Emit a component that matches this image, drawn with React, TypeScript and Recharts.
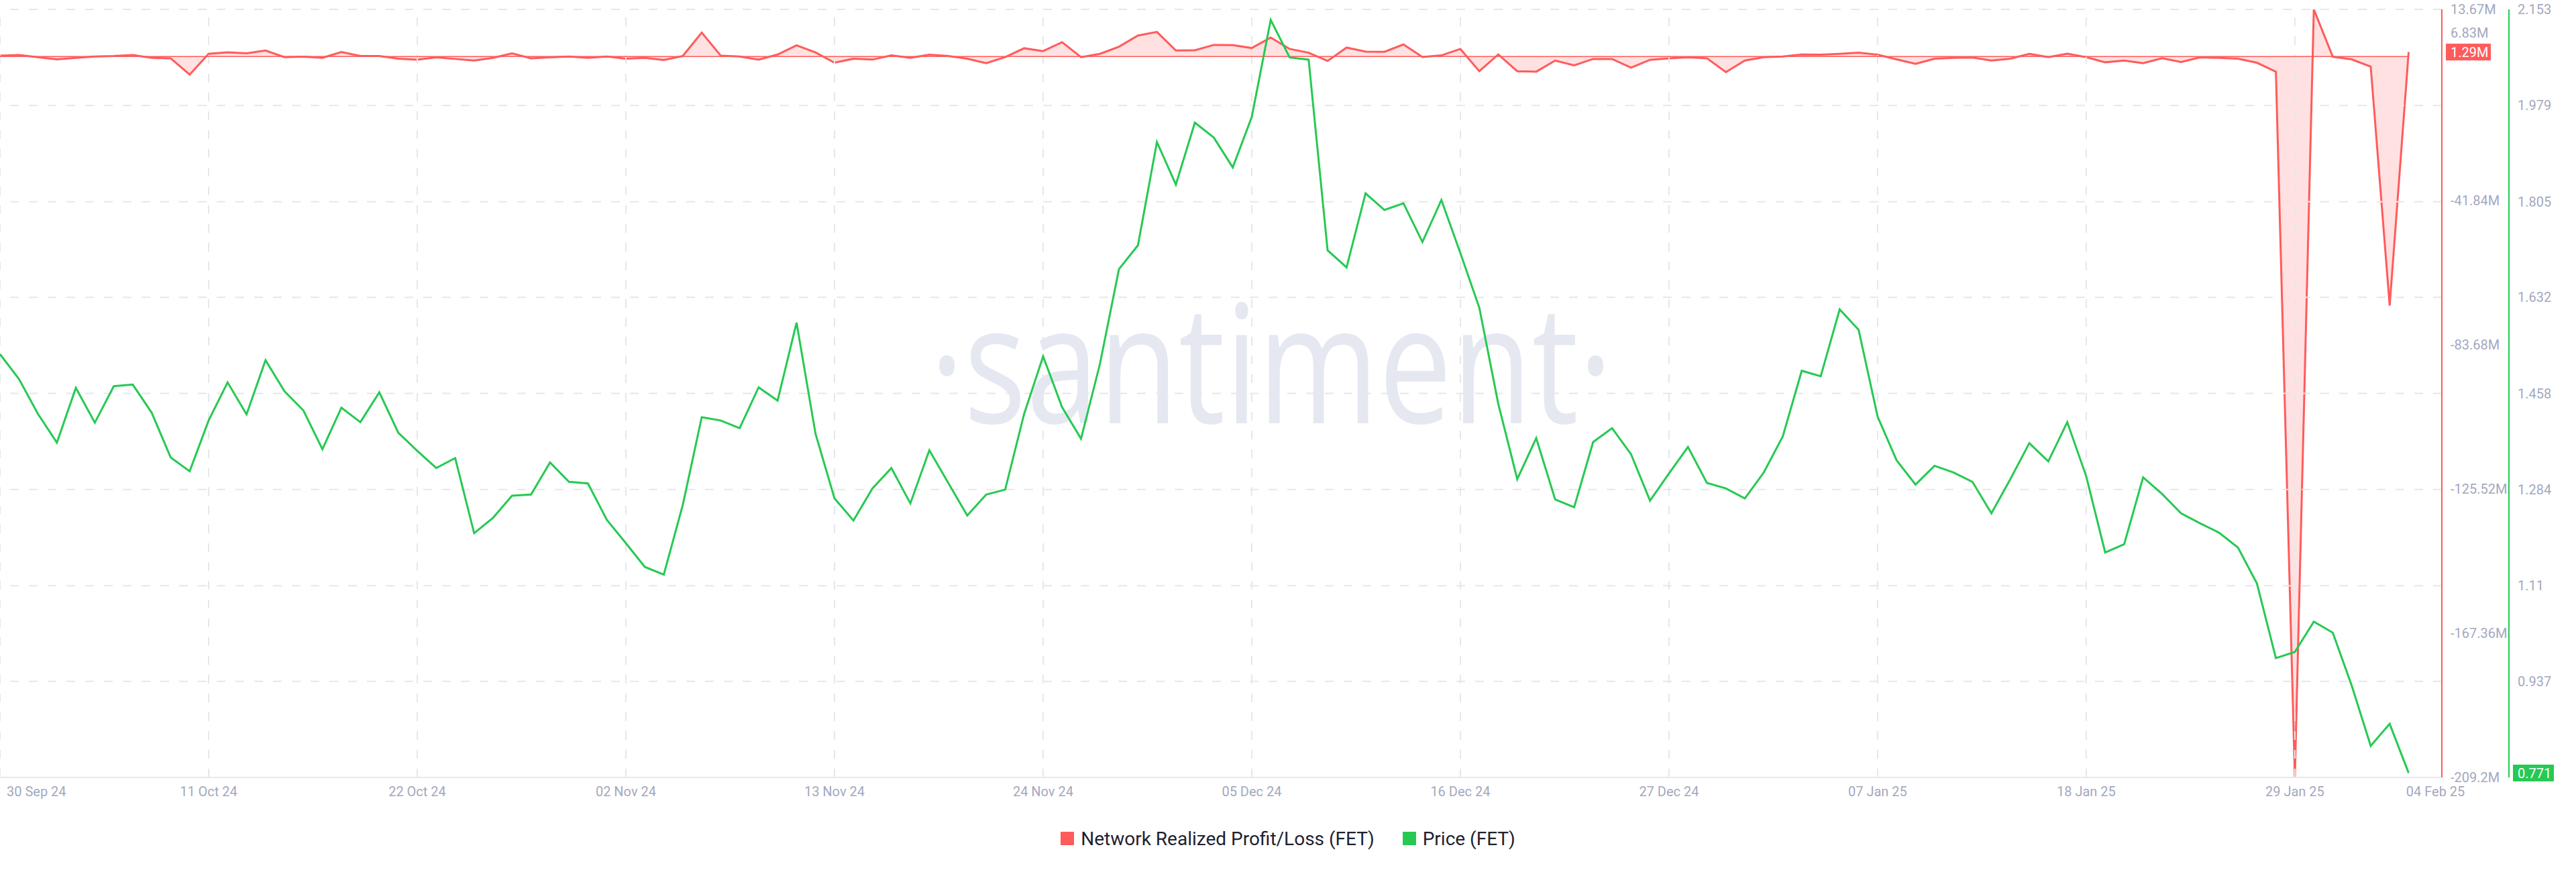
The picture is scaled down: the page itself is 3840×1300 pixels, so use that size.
import React from 'react';
import { ComposedChart, Area, Line, XAxis, YAxis, ReferenceLine, Legend } from 'recharts';

const RED = '#ff5b5b';
const GREEN = '#26c953';
const TICK_GREY = '#a3a8be';
const GRID = '#e6e7ec';

// daily points, 30 Sep 24 -> 04 Feb 25
// Network Realized Profit/Loss (FET), millions
const PL_M = [
  0.26, 0.45, -0.19, -0.84, -0.39, 0, 0.13, 0.45, -0.39, -0.52,
  -5.25, 0.78, 1.23, 0.91, 1.75, -0.19, -0.06, -0.39, 1.3, 0.13,
  0.13, -0.65, -0.91, -0.26, -0.71, -1.17, -0.39, 0.91, -0.52, -0.26,
  0, -0.39, 0, -0.65, -0.39, -1.04, 0.13, 6.93, 0.26, 0,
  -0.91, 0.58, 3.24, 1.17, -1.81, -0.65, -0.9, 0.32, -0.39, 0.52,
  0.13, -0.65, -1.94, -0.19, 2.4, 1.56, 4.15, -0.19, 0.78, 2.85,
  6.09, 7.13, 1.75, 1.81, 3.37, 3.31, 2.46, 5.51, 2.2, 1.1,
  -1.3, 2.59, 1.43, 1.36, 3.5, -0.13, 0.32, 2.2, -4.28, 0.58,
  -4.28, -4.41, -1.17, -2.59, -0.71, -0.71, -3.24, -0.97, -0.52, -0.26,
  -0.52, -4.54, -1.17, -0.19, 0, 0.58, 0.52, 0.78, 1.1, 0.52,
  -0.84, -2.14, -0.65, -0.39, -0.32, -1.17, -0.65, 0.78, -0.19, 0.84,
  -0.19, -1.68, -1.17, -1.94, -0.52, -1.62, -0.26, -0.39, -0.65, -1.81,
  -4.41, -209.2, 13.67, -0.06, -0.84, -2.92, -72.3, 1.29,
];

// Price (FET), USD
const PRICE = [
  1.529, 1.484, 1.421, 1.369, 1.468, 1.405, 1.471, 1.474, 1.423, 1.342,
  1.317, 1.409, 1.478, 1.42, 1.518, 1.462, 1.427, 1.357, 1.432, 1.406,
  1.46, 1.387, 1.354, 1.323, 1.341, 1.205, 1.233, 1.273, 1.275, 1.333,
  1.298, 1.295, 1.229, 1.187, 1.144, 1.13, 1.256, 1.415, 1.409, 1.395,
  1.469, 1.445, 1.586, 1.385, 1.268, 1.228, 1.286, 1.323, 1.259, 1.355,
  1.296, 1.237, 1.275, 1.284, 1.421, 1.525, 1.433, 1.376, 1.512, 1.683,
  1.726, 1.913, 1.836, 1.948, 1.921, 1.867, 1.958, 2.134, 2.066, 2.062,
  1.717, 1.686, 1.82, 1.79, 1.802, 1.732, 1.808, 1.712, 1.613, 1.439,
  1.303, 1.377, 1.266, 1.252, 1.37, 1.395, 1.348, 1.264, 1.313, 1.361,
  1.296, 1.286, 1.268, 1.315, 1.38, 1.499, 1.489, 1.61, 1.573, 1.416,
  1.337, 1.293, 1.327, 1.315, 1.298, 1.241, 1.303, 1.368, 1.335, 1.406,
  1.308, 1.17, 1.185, 1.306, 1.276, 1.241, 1.223, 1.206, 1.179, 1.114,
  0.979, 0.99, 1.045, 1.025, 0.929, 0.82, 0.86, 0.771,
];

const X_TICK_DAYS = [0, 11, 22, 33, 44, 55, 66, 77, 88, 99, 110, 121, 127];
const X_TICK_LABELS = [
  '30 Sep 24', '11 Oct 24', '22 Oct 24', '02 Nov 24', '13 Nov 24', '24 Nov 24',
  '05 Dec 24', '16 Dec 24', '27 Dec 24', '07 Jan 25', '18 Jan 25', '29 Jan 25', '04 Feb 25',
];

const PL_DOMAIN = [-209.2, 13.67];
const PL_TICKS = [-209.2, -167.36, -125.52, -83.68, -41.84, 6.83, 13.67];
const PRICE_DOMAIN = [0.763, 2.153];
const PRICE_TICKS = [0.937, 1.11, 1.284, 1.458, 1.632, 1.805, 1.979, 2.153];

const PL_LAST = PL_M[PL_M.length - 1];
const PRICE_LAST = PRICE[PRICE.length - 1];

const data = PRICE.map((price, i) => ({ day: i, pl: PL_M[i], price }));

const FONT = 'Roboto, "Noto Sans", sans-serif';

function DateTick({ x, y, payload }: any) {
  const i = X_TICK_DAYS.indexOf(payload.value);
  const first = i === 0;
  const last = i === X_TICK_DAYS.length - 1;
  return (
    <text
      x={first ? x + 10 : last ? x + 40 : x}
      y={y}
      dy="0.71em"
      textAnchor={first ? 'start' : 'middle'}
      fill={TICK_GREY}
      fontSize={20}
      fontFamily={FONT}
    >
      {X_TICK_LABELS[i]}
    </text>
  );
}

function PlTick({ x, y, payload }: any) {
  const v = payload.value;
  const label = `${v}M`;
  if (v === PL_LAST) {
    return (
      <g>
        <rect x={x - 7} y={y - 12.5} width={67} height={25} fill={RED} />
        <text x={x} y={y} dy="0.355em" fill="#fff" fontSize={20} fontFamily={FONT}>{label}</text>
      </g>
    );
  }
  return (
    <text x={x} y={y} dy="0.355em" fill={TICK_GREY} fontSize={20} fontFamily={FONT}>{label}</text>
  );
}

function PriceTick({ x, y, payload }: any) {
  const v = payload.value;
  if (v === PRICE_LAST) {
    return (
      <g>
        <rect x={x - 7} y={y - 12.5} width={61} height={25} fill={GREEN} />
        <text x={x} y={y} dy="0.355em" fill="#fff" fontSize={20} fontFamily={FONT}>{String(v)}</text>
      </g>
    );
  }
  return (
    <text x={x} y={y} dy="0.355em" fill={TICK_GREY} fontSize={20} fontFamily={FONT}>{String(v)}</text>
  );
}

function ChartLegend() {
  const item = (color: string, text: string) => (
    <div style={{ display: 'flex', alignItems: 'center' }}>
      <span style={{ width: 20, height: 20, background: color, marginRight: 10, display: 'inline-block' }} />
      <span>{text}</span>
    </div>
  );
  return (
    <div
      style={{
        height: 40,
        display: 'flex',
        justifyContent: 'center',
        alignItems: 'center',
        gap: 42,
        fontFamily: FONT,
        fontSize: 28,
        color: '#1f2230',
      }}
    >
      {item(RED, 'Network Realized Profit/Loss (FET)')}
      {item(GREEN, 'Price (FET)')}
    </div>
  );
}

export default function App() {
  return (
    <div style={{ position: 'absolute', left: 0, top: 0, width: 3840, height: 1300, background: '#fff' }}>
      {/* watermark */}
      <svg width={3840} height={1300} style={{ position: 'absolute', left: 0, top: 0 }}>
        <text
          x={1386}
          y={631}
          fontSize={245}
          fontFamily='"Open Sans", sans-serif'
          fill="#e5e8f0"
          textLength={1018}
          lengthAdjust="spacingAndGlyphs"
        >
          ·santiment·
        </text>
      </svg>

      <div style={{ position: 'absolute', left: 0, top: 0 }}>
        <ComposedChart width={3840} height={1300} data={data} margin={{ top: 14, right: 0, bottom: 30, left: 0 }}>
          <XAxis
            dataKey="day"
            type="number"
            domain={[0, 128.75]}
            allowDataOverflow
            ticks={X_TICK_DAYS}
            interval={0}
            height={71}
            axisLine={{ stroke: '#e6e8ee', strokeWidth: 2 }}
            tickLine={false}
            tickSize={0}
            tickMargin={14}
            tick={<DateTick />}
          />
          <YAxis
            yAxisId="pl"
            orientation="right"
            type="number"
            domain={PL_DOMAIN}
            allowDataOverflow
            ticks={[...PL_TICKS, PL_LAST]}
            interval={0}
            width={100}
            axisLine={{ stroke: RED, strokeWidth: 2 }}
            tickLine={false}
            tickSize={0}
            tickMargin={13}
            tick={<PlTick />}
          />
          <YAxis
            yAxisId="price"
            orientation="right"
            type="number"
            domain={PRICE_DOMAIN}
            allowDataOverflow
            ticks={[...PRICE_TICKS, PRICE_LAST]}
            interval={0}
            width={100}
            axisLine={{ stroke: GREEN, strokeWidth: 2 }}
            tickLine={false}
            tickSize={0}
            tickMargin={13}
            tick={<PriceTick />}
          />

          {/* grid */}
          {PRICE_TICKS.map((v) => (
            <ReferenceLine key={`h${v}`} yAxisId="price" y={v} stroke={GRID} strokeWidth={2} strokeDasharray="13 15" />
          ))}
          {X_TICK_DAYS.slice(0, -1).map((d) => (
            <ReferenceLine key={`v${d}`} yAxisId="pl" x={d} stroke={GRID} strokeWidth={2} strokeDasharray="13 15" />
          ))}

          <Area
            yAxisId="pl"
            dataKey="pl"
            type="linear"
            baseValue={0}
            stroke={RED}
            strokeWidth={3}
            fill={RED}
            fillOpacity={0.18}
            dot={false}
            activeDot={false}
            isAnimationActive={false}
          />
          <ReferenceLine
            yAxisId="pl"
            segment={[{ x: 0, y: 0 }, { x: PL_M.length - 1, y: 0 }]}
            stroke={RED}
            strokeWidth={1.5}
          />
          <Line
            yAxisId="price"
            dataKey="price"
            type="linear"
            stroke={GREEN}
            strokeWidth={3}
            dot={false}
            activeDot={false}
            isAnimationActive={false}
          />
          <Legend verticalAlign="bottom" content={() => <ChartLegend />} />
        </ComposedChart>
      </div>
    </div>
  );
}
